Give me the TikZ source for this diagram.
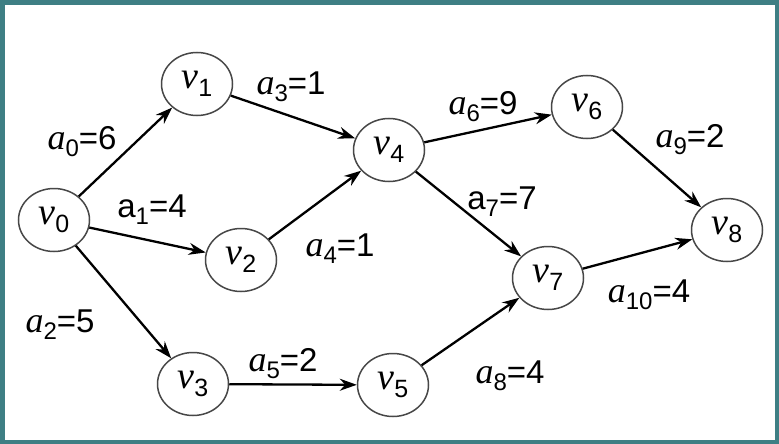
\documentclass[tikz,border=0pt]{standalone}
\usepackage{fontspec}
\setmainfont{Liberation Sans}
\newfontfamily\tms{Liberation Serif}
\usetikzlibrary{arrows.meta,shapes.geometric}
\definecolor{frame}{RGB}{62,127,132}
\newcommand{\vx}[1]{{\fontsize{38}{38}\selectfont\tms\itshape v}\raisebox{-8pt}{\fontsize{25}{25}\selectfont #1}}
\newcommand{\ela}[2]{{\fontsize{36}{36}\selectfont\tms\itshape a}\raisebox{-7pt}{\fontsize{24}{24}\selectfont #1}=#2}
\newcommand{\ulab}[2]{a\raisebox{-7pt}{\fontsize{24}{24}\selectfont #1}=#2}
\begin{document}
\begin{tikzpicture}[x=1pt,y=-1pt,
  vert/.style={ellipse,draw=black!72,line width=1.5pt,minimum width=71pt,minimum height=63pt,inner sep=0pt},
  arc/.style={-{Stealth[length=17pt,width=12pt]},line width=2.3pt},
  lbl/.style={inner sep=0pt,font=\fontsize{33}{33}\selectfont}]
\useasboundingbox (0,0) rectangle (779,444);
\fill[frame] (0,0) rectangle (779,444);
\fill[white] (5,5) rectangle (775,440);
\node[vert] (v0) at (54,220) {\vx{0}};
\node[vert] (v1) at (197,84) {\vx{1}};
\node[vert] (v2) at (241,260) {\vx{2}};
\node[vert] (v3) at (193,384) {\vx{3}};
\node[vert] (v4) at (389,150) {\vx{4}};
\node[vert] (v5) at (393,385) {\vx{5}};
\node[vert] (v6) at (587,107) {\vx{6}};
\node[vert] (v7) at (548,278) {\vx{7}};
\node[vert] (v8) at (727,230) {\vx{8}};
\draw[arc] (v0) -- (v1);
\draw[arc] (v0) -- (v2);
\draw[arc] (v0) -- (v3);
\draw[arc] (v1) -- (v4);
\draw[arc] (v2) -- (v4);
\draw[arc] (v3) -- (v5);
\draw[arc] (v4) -- (v6);
\draw[arc] (v4) -- (v7);
\draw[arc] (v5) -- (v7);
\draw[arc] (v6) -- (v8);
\draw[arc] (v7) -- (v8);
\node[lbl] (l0) at (82,142) {\ela{0}{6}};
\node[lbl] (l1) at (152,210) {\ulab{1}{4}};
\node[lbl] (l2) at (60,325) {\ela{2}{5}};
\node[lbl] (l3) at (291,87) {\ela{3}{1}};
\node[lbl] (l4) at (340,249) {\ela{4}{1}};
\node[lbl] (l5) at (283,364) {\ela{5}{2}};
\node[lbl] (l6) at (483,107) {\ela{6}{9}};
\node[lbl] (l7) at (502,202) {\ulab{7}{7}};
\node[lbl] (l8) at (510,376) {\ela{8}{4}};
\node[lbl] (l9) at (690,140) {\ela{9}{2}};
\node[lbl] (l10) at (649,295) {\ela{10}{4}};
\end{tikzpicture}
\end{document}
